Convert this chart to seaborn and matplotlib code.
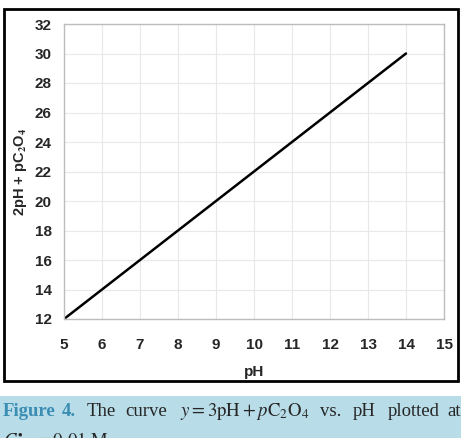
import numpy as np
import pandas as pd
import seaborn as sns
import matplotlib.pyplot as plt
from matplotlib.patches import Rectangle

# data
ph = [5, 6, 7, 8, 9, 10, 11, 12, 13, 14]
y_vals = [12, 14, 16, 18, 20, 22, 24, 26, 28, 30]
x_ticks = [5, 6, 7, 8, 9, 10, 11, 12, 13, 14, 15]
y_ticks = [12, 14, 16, 18, 20, 22, 24, 26, 28, 30, 32]

df = pd.DataFrame({'pH': ph, 'y': y_vals})

sns.set_style('white')
plt.rcParams['font.family'] = ['Liberation Sans', 'DejaVu Sans']
plt.rcParams['mathtext.fontset'] = 'stix'

W, H = 461, 438
fig = plt.figure(figsize=(W / 100, H / 100), dpi=100)

# outer black frame around the chart
fig.patches.append(Rectangle((4 / W, 1 - 381 / H), 454 / W, 372 / H,
                             transform=fig.transFigure, fill=False,
                             edgecolor='black', linewidth=2))

ax = fig.add_axes([64 / W, 1 - 319 / H, 380 / W, 295 / H])
sns.lineplot(data=df, x='pH', y='y', color='black', linewidth=1.8, ax=ax)

ax.set_xlim(5, 15)
ax.set_ylim(12, 32)
ax.set_xticks(x_ticks)
ax.set_yticks(y_ticks)
ax.grid(True, color='#e8e8e8', linewidth=0.8)
for s in ax.spines.values():
    s.set_color('#bdbdbd')
    s.set_linewidth(1)
ax.tick_params(axis='y', length=0, labelsize=11, pad=9)
ax.tick_params(axis='x', length=0, labelsize=11, pad=14)
for lab in ax.get_xticklabels() + ax.get_yticklabels():
    lab.set_fontweight('bold')
ax.set_xlabel('pH', fontsize=11, fontweight='bold', labelpad=9)
ax.set_ylabel('2pH + pC$_\\mathbf{2}$O$_\\mathbf{4}$', fontsize=10.5,
              fontweight='bold', labelpad=4)

# caption box
fig.patches.append(Rectangle((0, 0), 1, 42 / H, transform=fig.transFigure,
                             facecolor='#b8dde9', edgecolor='none'))
cap_y = 1 - 411 / H
fs = 13.5
serif = ['Liberation Serif', 'DejaVu Serif']
fig.text(3 / W, cap_y, 'Figure', color='#3b8db4', fontsize=fs,
         family=serif, fontweight='bold', va='center')
fig.text(62 / W, cap_y, '4.', color='#3b8db4', fontsize=fs,
         family=serif, fontweight='bold', va='center')
fig.text(87 / W, cap_y, 'The', fontsize=fs, family=serif, va='center')
fig.text(125 / W, cap_y, 'curve', fontsize=fs, family=serif, va='center')
fig.text(180 / W, cap_y, r'$y = 3\mathrm{pH} + p\mathrm{C_2O_4}$',
         fontsize=fs, va='center')
fig.text(320 / W, cap_y, 'vs.', fontsize=fs, family=serif, va='center')
fig.text(353 / W, cap_y, 'pH', fontsize=fs, family=serif, va='center')
fig.text(388 / W, cap_y, 'plotted', fontsize=fs, family=serif, va='center')
fig.text(447 / W, cap_y, 'at', fontsize=fs, family=serif, va='center')
# second caption line, cut by the lower edge as in the reference
fig.text(3 / W, 1 - 431 / H, r'$C^{\bullet}_{\mathrm{Ox}}\,=0.01\ \mathrm{M}$',
         fontsize=fs, va='top')

fig.savefig('out.png', dpi=100)
